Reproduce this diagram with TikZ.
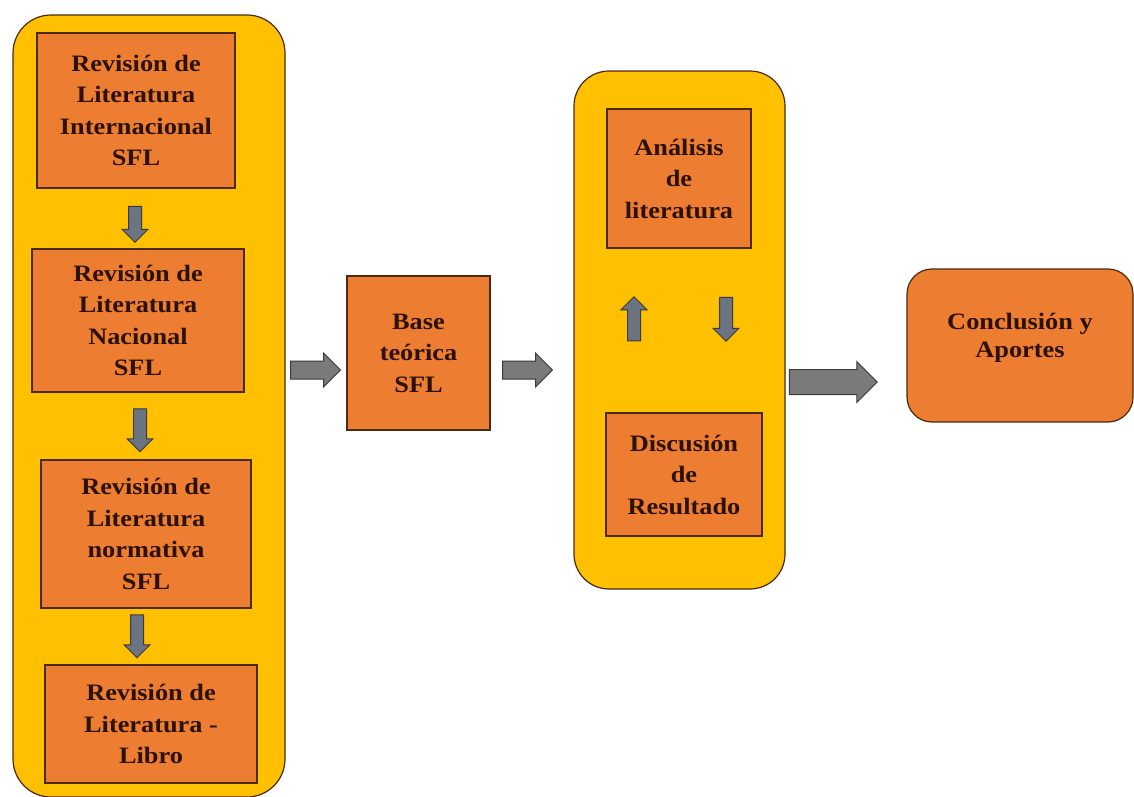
\documentclass[tikz,border=0pt]{standalone}
\usepackage{fontspec}
\setmainfont{Liberation Serif}[FakeStretch=1.12]
\usepackage{xcolor}
\usetikzlibrary{shapes.arrows}

\definecolor{gold}{HTML}{FFC000}
\definecolor{orng}{HTML}{ED7D31}
\definecolor{rim}{HTML}{4A2A12}
\definecolor{ink}{HTML}{2B1100}
\definecolor{arrfill}{HTML}{7A7A7A}
\definecolor{arrsmall}{HTML}{6C7482}
\definecolor{arrrim}{HTML}{3A3A3A}

\begin{document}
\begin{tikzpicture}[x=1pt,y=-1pt,
  phase/.style={draw=rim, fill=gold, line width=1.2pt, rounded corners=38pt},
  box/.style={draw=rim, fill=orng, line width=1.2pt, text=ink, align=center,
    inner sep=0pt, font=\bfseries\fontsize{23.5}{31.5}\selectfont},
  thin arrow/.style={single arrow, draw=arrrim, fill=arrsmall, line width=1pt,
    inner xsep=0pt, inner ysep=6pt, single arrow head extend=6.5pt,
    minimum height=#1},
  thick arrow/.style={single arrow, draw=arrrim, fill=arrfill, line width=1pt,
    inner xsep=0pt, inner ysep=8.5pt, single arrow head extend=8pt,
    minimum height=#1}]
  \useasboundingbox (0,0) rectangle (1134,796);

  % Literature review column on the left
  \node[phase, minimum width=272pt, minimum height=782pt] (colA) at (149,406) {};
  \node[box, minimum width=198pt, minimum height=155pt] (r1) at (136,110.5)
    {Revisión de\\Literatura\\Internacional\\SFL};
  \node[box, minimum width=212pt, minimum height=143pt] (r2) at (138,320.5)
    {Revisión de\\Literatura\\Nacional\\SFL};
  \node[box, minimum width=210pt, minimum height=148pt] (r3) at (146,534)
    {Revisión de\\Literatura\\normativa\\SFL};
  \node[box, minimum width=212pt, minimum height=118pt] (r4) at (151,724)
    {Revisión de\\Literatura -\\Libro};

  \node[thin arrow=36pt, rotate=-90] (d1) at (135,221) {};
  \node[thin arrow=43pt, rotate=-90] (d2) at (140,427) {};
  \node[thin arrow=43pt, rotate=-90] (d3) at (137,633) {};

  % Theoretical base in the middle
  \node[box, minimum width=143pt, minimum height=154pt] (base) at (418.5,353)
    {Base\\teórica\\SFL};
  \node[thick arrow=50pt] (h1) at (311,370) {};
  \node[thick arrow=50pt] (h2) at (523,370) {};

  % Analysis and discussion loop
  \node[phase, rounded corners=35pt, minimum width=211pt, minimum height=518pt] (colB) at (679.5,330) {};
  \node[box, minimum width=144pt, minimum height=139pt] (ana) at (679,178.5)
    {Análisis\\de\\literatura};
  \node[box, minimum width=156pt, minimum height=123pt] (disc) at (684,474.5)
    {Discusión\\de\\Resultado};
  \node[thin arrow=44pt, rotate=90] (up) at (634,322) {};
  \node[thin arrow=44pt, rotate=-90] (dn) at (726,316) {};

  % Conclusion on the right
  \node[thick arrow=88pt, inner ysep=12pt, single arrow head extend=8pt] (h3) at (827,382) {};
  \node[box, rounded corners=25pt, minimum width=226pt, minimum height=153pt,
    font=\bfseries\fontsize{23.5}{28.5}\selectfont] (concl) at (1020,345.5)
    {Conclusión y\\Aportes\\[-8pt]};
\end{tikzpicture}
\end{document}
